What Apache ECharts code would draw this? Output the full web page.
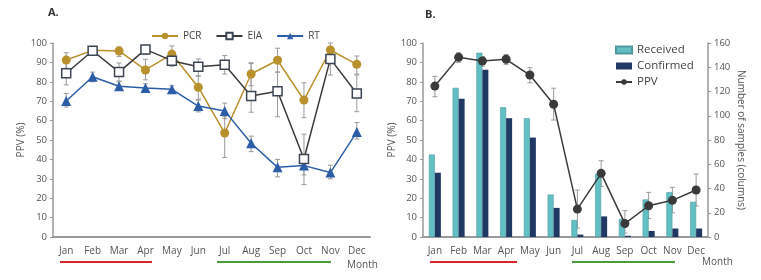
<!DOCTYPE html>
<html>
<head>
<meta charset="utf-8">
<script src="https://cdn.jsdelivr.net/npm/echarts@6/dist/echarts.min.js"></script>
<style>
  html, body { margin: 0; padding: 0; background: #fff; }
  #chart { width: 761px; height: 280px; }
</style>
</head>
<body>
<div id="chart"></div>
<script>
var months = ['Jan', 'Feb', 'Mar', 'Apr', 'May', 'Jun', 'Jul', 'Aug', 'Sep', 'Oct', 'Nov', 'Dec'];

// panel A : PPV (%) by method
var pcr = [91.2, 96.2, 95.9, 86.1, 94.3, 77.2, 53.6, 84.0, 91.1, 70.6, 96.4, 89.0];
var pcrLow = [87, 94.5, 93, 81, 90, 71, 41, 78, 85, 61.5, 93, 84];
var pcrHigh = [95, 98, 98, 91.6, 98.5, 83, 62, 89.8, 97.3, 79.5, 100, 93.3];

var eia = [84.4, 96.0, 85.0, 96.7, 90.9, 87.8, 88.8, 72.7, 75.1, 40.2, 91.8, 74.0];
var eiaLow = [78.4, 94, 80.4, 94, 88, 83, 84, 64.3, 62, 27, 83.5, 64.6];
var eiaHigh = [90, 98, 89.7, 98.5, 93.5, 91.8, 93.5, 89.5, 85, 53, 98, 83.5];

var rt = [70.1, 82.6, 77.7, 76.8, 76.1, 67.5, 65.0, 48.3, 35.9, 36.8, 33.2, 54.1];
var rtLow = [67, 80, 75.5, 74.8, 74.2, 64.5, 61, 44, 31, 32, 30, 50.5];
var rtHigh = [74, 85, 80, 79, 78, 70.5, 69, 52, 40, 42, 37, 59];

// panel B : samples and PPV
var received = [68, 123, 152, 107, 98, 35, 14, 52, 15, 31, 37, 29];
var confirmed = [53, 114, 138, 98, 82, 24, 2, 17, 1, 5, 7, 7];
var ppv = [77.8, 92.6, 90.7, 91.6, 83.5, 68.4, 14.4, 32.8, 6.9, 16.1, 18.9, 24.2];
var ppvLow = [72.3, 90, 88, 89, 79.5, 60.3, 4.6, 26, 2, 9.5, 12.5, 16];
var ppvHigh = [82.8, 95, 93, 94, 87.3, 76.7, 24.2, 39.3, 13.6, 23, 25.6, 32.5];

var ppvTicks = [0, 10, 20, 30, 40, 50, 60, 70, 80, 90, 100];
var sampleTicks = [0, 20, 40, 60, 80, 100, 120, 140, 160];

var FONT = 'Open Sans';
var TXT = '#555';
var AX = '#999';

function errData(lo, hi) {
  return lo.map(function (v, i) { return [i, v, hi[i]]; });
}

function errSeries(name, lo, hi, xi, yi) {
  return {
    type: 'custom',
    name: name,
    xAxisIndex: xi,
    yAxisIndex: yi,
    z: 1,
    silent: true,
    data: errData(lo, hi),
    renderItem: function (params, api) {
      var a = api.coord([api.value(0), api.value(1)]);
      var b = api.coord([api.value(0), api.value(2)]);
      var st = { stroke: '#9a9a9a', lineWidth: 1 };
      return {
        type: 'group',
        children: [
          { type: 'line', shape: { x1: a[0], y1: a[1], x2: b[0], y2: b[1] }, style: st },
          { type: 'line', shape: { x1: a[0] - 2.5, y1: a[1], x2: a[0] + 2.5, y2: a[1] }, style: st },
          { type: 'line', shape: { x1: b[0] - 2.5, y1: b[1], x2: b[0] + 2.5, y2: b[1] }, style: st }
        ]
      };
    }
  };
}

function valAxis(grid, ticks, pos, name, nameGap, rot) {
  return {
    type: 'value',
    gridIndex: grid,
    position: pos,
    min: ticks[0],
    max: ticks[ticks.length - 1],
    interval: ticks[1] - ticks[0],
    name: name,
    nameLocation: 'middle',
    nameGap: nameGap,
    nameRotate: rot,
    nameTextStyle: { fontFamily: FONT, fontSize: 10, color: TXT },
    axisLine: { show: true, lineStyle: { color: AX, width: 1.5 } },
    axisTick: { show: true, length: 3, lineStyle: { color: AX } },
    axisLabel: { fontFamily: FONT, fontSize: 9.5, color: TXT, margin: 6 },
    splitLine: { show: false }
  };
}

function catAxis(grid) {
  return {
    type: 'category',
    gridIndex: grid,
    data: months,
    axisLine: { lineStyle: { color: AX, width: 2 } },
    axisTick: { show: false },
    axisLabel: { interval: 0, fontFamily: FONT, fontSize: 10, color: TXT, margin: 9 }
  };
}

var chart = echarts.init(document.getElementById('chart'), null, { renderer: 'canvas' });

var option = {
  backgroundColor: '#fff',
  animation: false,
  textStyle: { fontFamily: FONT },
  grid: [
    { left: 53, right: 391, top: 43, bottom: 43 },
    { left: 423, right: 53, top: 43, bottom: 43 }
  ],
  xAxis: [catAxis(0), catAxis(1)],
  yAxis: [
    valAxis(0, ppvTicks, 'left', 'PPV (%)', 27, 90),
    valAxis(1, ppvTicks, 'left', 'PPV (%)', 24, 90),
    valAxis(1, sampleTicks, 'right', 'Number of samples (columns)', 28, -90)
  ],
  legend: [
    {
      data: ['PCR', 'EIA', 'RT'],
      left: 146, top: 26,
      itemWidth: 26, itemHeight: 8, itemGap: 14,
      textStyle: { fontFamily: FONT, fontSize: 10, color: '#444' }
    },
    {
      data: [
        { name: 'Received', icon: 'rect' },
        { name: 'Confirmed', icon: 'rect' },
        { name: 'PPV' }
      ],
      orient: 'vertical',
      left: 610, top: 38,
      itemWidth: 16, itemHeight: 7, itemGap: 2,
      textStyle: { fontFamily: FONT, fontSize: 11.5, color: '#444', lineHeight: 14 }
    }
  ],
  graphic: [
    { type: 'text', left: 48, top: 7, style: { text: 'A.', font: 'bold 11px "Open Sans"', fill: '#333' } },
    { type: 'text', left: 425, top: 9, style: { text: 'B.', font: 'bold 11px "Open Sans"', fill: '#333' } },
    { type: 'text', left: 347, top: 260, style: { text: 'Month', font: '10px "Open Sans"', fill: TXT } },
    { type: 'text', left: 702, top: 257, style: { text: 'Month', font: '10px "Open Sans"', fill: TXT } },
    { type: 'line', shape: { x1: 60, y1: 262, x2: 152, y2: 262 }, style: { stroke: '#d9262c', lineWidth: 2 } },
    { type: 'line', shape: { x1: 217, y1: 262, x2: 331, y2: 262 }, style: { stroke: '#4d9a3a', lineWidth: 2 } },
    { type: 'line', shape: { x1: 430, y1: 262, x2: 517, y2: 262 }, style: { stroke: '#d9262c', lineWidth: 2 } },
    { type: 'line', shape: { x1: 572, y1: 262, x2: 675, y2: 262 }, style: { stroke: '#4d9a3a', lineWidth: 2 } }
  ],
  series: [
    errSeries('pcrErr', pcrLow, pcrHigh, 0, 0),
    errSeries('eiaErr', eiaLow, eiaHigh, 0, 0),
    errSeries('rtErr', rtLow, rtHigh, 0, 0),
    {
      name: 'PCR', type: 'line', xAxisIndex: 0, yAxisIndex: 0, z: 3,
      data: pcr, symbol: 'circle', symbolSize: 9,
      lineStyle: { color: '#b8902c', width: 1.5 },
      itemStyle: { color: '#b8902c' }
    },
    {
      name: 'EIA', type: 'line', xAxisIndex: 0, yAxisIndex: 0, z: 4,
      data: eia, symbol: 'rect', symbolSize: 9,
      lineStyle: { color: '#3a3a3a', width: 1.5 },
      itemStyle: { color: '#fff', borderColor: '#3d4654', borderWidth: 1.5 }
    },
    {
      name: 'RT', type: 'line', xAxisIndex: 0, yAxisIndex: 0, z: 3,
      data: rt, symbol: 'triangle', symbolSize: 10,
      lineStyle: { color: '#2c5ea8', width: 1.5 },
      itemStyle: { color: '#2c5ea8' }
    },
    {
      name: 'Received', type: 'bar', xAxisIndex: 1, yAxisIndex: 2,
      data: received, barWidth: 6, barGap: '0%',
      itemStyle: { color: '#62bfc4', borderColor: '#4f9a9e', borderWidth: 0.6 }
    },
    {
      name: 'Confirmed', type: 'bar', xAxisIndex: 1, yAxisIndex: 2,
      data: confirmed, barWidth: 6, barGap: '0%',
      itemStyle: { color: '#1f3864' }
    },
    errSeries('ppvErr', ppvLow, ppvHigh, 1, 1),
    {
      name: 'PPV', type: 'line', xAxisIndex: 1, yAxisIndex: 1, z: 4,
      data: ppv, symbol: 'circle', symbolSize: 9,
      lineStyle: { color: '#3a3a3a', width: 1.5 },
      itemStyle: { color: '#3a3a3a' }
    }
  ]
};

chart.setOption(option);
</script>
</body>
</html>
